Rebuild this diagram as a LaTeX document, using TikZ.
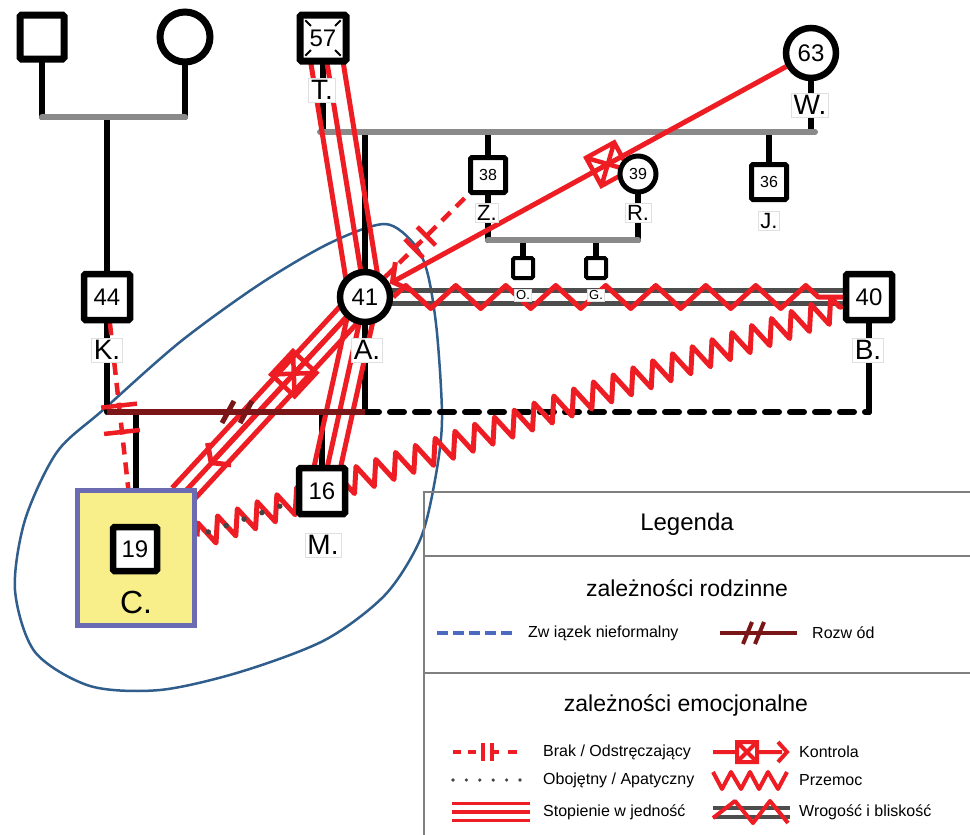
\documentclass[tikz,border=0pt]{standalone}
\usepackage{fontspec}
\setmainfont{Liberation Sans}
\usetikzlibrary{calc,decorations.pathmorphing,decorations.markings,arrows.meta}

\definecolor{relred}{HTML}{EE1D23}
\definecolor{bargray}{HTML}{8A8A8A}
\definecolor{hostgray}{HTML}{4D4D4D}
\definecolor{divred}{HTML}{7A1518}
\definecolor{blobblue}{HTML}{2F5D8C}
\definecolor{idfill}{HTML}{F8EE8A}
\definecolor{idedge}{HTML}{6B6BB3}
\definecolor{legline}{HTML}{7F7F7F}
\definecolor{infblue}{HTML}{4A6BC0}
\definecolor{dotgray}{HTML}{444444}

\newcommand\fsz[1]{\fontsize{#1}{#1}\selectfont}
% three parallel red lines between two points (fusion)
\newcommand\fusionband[3]{%
  \draw[fusion] (#1.center) -- (#2.center);
  \draw[fusion] ($(#1.center)!#3!90:(#2.center)$) -- ($(#2.center)!#3!-90:(#1.center)$);
  \draw[fusion] ($(#1.center)!#3!-90:(#2.center)$) -- ($(#2.center)!#3!90:(#1.center)$);
}

\pgfdeclarelayer{blob}
\pgfdeclarelayer{kinship}
\pgfdeclarelayer{emotion}
\pgfdeclarelayer{marriage}
\pgfsetlayers{blob,kinship,emotion,marriage,main}

\tikzset{
  person/.style={draw, fill=white, line width=6.5pt, inner sep=0pt, font=\fsz{24}},
  male/.style={person, rectangle, rounded corners=1.5pt, minimum size=46pt},
  female/.style={person, circle, minimum size=50pt},
  smallmale/.style={male, line width=5pt, minimum size=35pt, font=\fsz{16}},
  smallfemale/.style={female, line width=5pt, minimum size=36pt, font=\fsz{16}},
  tinymale/.style={male, line width=4pt, minimum size=20pt},
  idbox/.style={draw=idedge, fill=idfill, line width=5pt, rectangle, minimum width=117pt, minimum height=135pt, inner sep=0pt},
  namebox/.style={fill=white, draw=black!12, line width=0.7pt, inner sep=2.5pt, font=\fsz{28}},
  smallname/.style={namebox, font=\fsz{22}, inner sep=2pt},
  tinyname/.style={namebox, font=\fsz{13}, inner sep=1.5pt},
  kin/.style={line width=6pt, line cap=round},
  sibbar/.style={bargray, line width=6pt, line cap=round},
  divorce/.style={divred, line width=5.5pt, postaction={decorate, decoration={markings,
      mark=at position 0.469 with {\draw[-, divred, line width=5pt] (-6pt,-11pt) -- (6pt,11pt);},
      mark=at position 0.539 with {\draw[-, divred, line width=5pt] (-6pt,-11pt) -- (6pt,11pt);}}}},
  fusion/.style={relred, line width=5pt},
  ctl/.style={relred, line width=5pt, -{Straight Barb[length=12pt,width=32pt]},
    postaction={decorate, decoration={markings, mark=at position #1 with
      {\draw[-, relred, line width=4.5pt, line join=miter] (-16pt,-16pt) -- (16pt,-16pt) -- (16pt,16pt) -- (-16pt,16pt) -- cycle
        (-16pt,-16pt) -- (16pt,16pt) (-16pt,16pt) -- (16pt,-16pt);}}}},
  cutoff/.style n args={3}{relred, line width=4.5pt, dash pattern=on 12pt off 8pt,
    postaction={decorate, decoration={markings,
      mark=at position #1 with {\draw[-, solid, relred, line width=4.5pt] (0pt,-#3) -- (0pt,#3);},
      mark=at position #2 with {\draw[-, solid, relred, line width=4.5pt] (0pt,-#3) -- (0pt,#3);}}}},
  hostline/.style={hostgray, line width=5pt},
  zigbig/.style={relred, line width=5pt, line join=round, decorate, decoration={zigzag, segment length=50pt, amplitude=11.5pt}},
  violence/.style={relred, line width=5pt, line join=round, decorate, decoration={zigzag, segment length=21pt, amplitude=12.5pt}},
  apathy/.style={dotgray, line width=5.5pt, line cap=round, dash pattern=on 0pt off 19pt, dash phase=7pt},
  legframe/.style={legline, line width=2.5pt},
  legtext/.style={anchor=west, inner sep=0pt, font=\fsz{16}},
  leghead/.style={inner sep=0pt, font=\fsz{23}},
}

\begin{document}
\begin{tikzpicture}[x=1pt,y=-1pt]
\begin{pgfonlayer}{blob}
\fill[white] (0,0) rectangle (970,835);
\end{pgfonlayer}
\useasboundingbox (0,0) rectangle (970,835);

% ---------- persons ----------
\node[male, line width=7pt, minimum size=44pt] (gf) at (42,37) {};
\node[female, line width=7pt] (gm) at (185,37) {};
\node[male, line width=7pt] (T) at (323,38) {57};
\foreach \a in {45,135,225,315}
  \draw[line width=2pt] ($(T.center)+(\a:17pt)$) -- ($(T.center)+(\a:25pt)$);
\node[female] (W) at (811,53) {63};
\node[male] (K) at (107,297) {44};
\node[female] (A) at (365,297) {41};
\node[male] (B) at (869,297) {40};
\node[smallmale] (Z) at (488,175) {38};
\node[smallfemale] (R) at (638,174) {39};
\node[smallmale] (J) at (769,182) {36};
\node[tinymale] (O) at (523,268) {};
\node[tinymale] (G) at (596,268) {};
\node[male] (M) at (322,491) {16};
\node[idbox] (C) at (136,558) {};
\node[male, minimum size=44pt] (Ci) at (135,549) {19};
\node[inner sep=0pt, font=\fsz{32}] (Cl) at (136,602) {C.};

% ---------- names ----------
\node[namebox] (Tl) at (322,90) {T.};
\node[namebox] (Wl) at (810,105) {W.};
\node[namebox] (Kl) at (107,350) {K.};
\node[namebox] (Al) at (367,350) {A.};
\node[namebox] (Bl) at (868,350) {B.};
\node[namebox] (Ml) at (323,545) {M.};
\node[smallname] (Zl) at (487,213) {Z.};
\node[smallname] (Rl) at (638,213) {R.};
\node[smallname] (Jl) at (769,221) {J.};
\node[tinyname] (Ol) at (523,295) {O.};
\node[tinyname] (Gl) at (596,295) {G.};

% ---------- junction points ----------
\coordinate (gpL) at (42,117);  \coordinate (gpR) at (185,117); \coordinate (gpK) at (107,117);
\coordinate (tbL) at (320,132); \coordinate (tbR) at (815,132);
\coordinate (tbT) at (323,132); \coordinate (tbW) at (811,132); \coordinate (tbA) at (365,132);
\coordinate (tbZ) at (488,132); \coordinate (tbJ) at (769,132);
\coordinate (zbL) at (488,240); \coordinate (zbR) at (638,240);
\coordinate (zbO) at (523,240); \coordinate (zbG) at (596,240);
\coordinate (dvK) at (107,412); \coordinate (dvA) at (365,412); \coordinate (dvB) at (869,412);
\coordinate (dvC) at (136,412); \coordinate (dvM) at (322,412);
\coordinate (cFus) at (181,496);
\coordinate (cCtl) at (209,465);

% ---------- outline round the core family ----------
\begin{pgfonlayer}{blob}
\draw[blobblue, line width=2.5pt] plot[smooth cycle] coordinates {
  (385,224) (415,245) (428,275) (437,333) (442,420) (435,480) (420,540) (385,595)
  (325,640) (240,672) (160,690) (90,686) (35,652) (15,590) (25,520) (57,452)
  (103,410) (180,342) (260,284) (330,243)};
\end{pgfonlayer}

% ---------- family lines ----------
\begin{pgfonlayer}{kinship}
\draw[kin] (gf.south) -- (gpL);
\draw[kin] (gm.south) -- (gpR);
\draw[kin] (gpK) -- (K.north);
\draw[sibbar] (gpL) -- (gpR);
\draw[kin] (T.south) -- (tbT);
\draw[kin] (W.south) -- (tbW);
\draw[kin] (tbA) -- (A.north);
\draw[kin] (tbZ) -- (Z.north);
\draw[kin] (tbJ) -- (J.north);
\draw[sibbar] (tbL) -- (tbR);
\draw[kin] (Z.south) -- (zbL);
\draw[kin] (R.south) -- (zbR);
\draw[kin] (zbO) -- (O.north);
\draw[kin] (zbG) -- (G.north);
\draw[sibbar] (zbL) -- (zbR);
\draw[kin] (K.south) -- (dvK);
\draw[kin] (A.south) -- (dvA);
\draw[kin] (B.south) -- (dvB);
\draw[kin] (dvC) -- (C.north);
\draw[kin] (dvM) -- (M.north);
\draw[kin, dash pattern=on 14pt off 11pt] (dvA) -- (dvB);
\end{pgfonlayer}

% ---------- emotional relations ----------
\begin{pgfonlayer}{emotion}
\draw[hostline] ($(A.center)+(0,-6.5)$) -- ($(B.center)+(0,-6.5)$);
\draw[hostline] ($(A.center)+(0,6.5)$) -- ($(B.center)+(0,6.5)$);
\draw[zigbig] (A) -- (B);
\fusionband{T}{A}{16pt}
\fusionband{A}{M}{13pt}
\fusionband{A}{cFus}{12pt}
\draw[ctl=0.38] (A) -- (cCtl);
\draw[ctl=0.45] (W) -- (A);
\draw[cutoff={0.5}{0.66}{18pt}] (K) -- (C);
\draw[cutoff={0.35}{0.5}{13pt}] (A) -- (Z);
\draw[violence] (C) -- (B);
\draw[apathy] (C) -- (M);
\end{pgfonlayer}

\begin{pgfonlayer}{marriage}
\draw[divorce] (dvK) -- (dvA);
\end{pgfonlayer}

% ---------- legend ----------
\draw[legframe] (424,840) -- (424,492) -- (975,492);
\draw[legframe] (424,556) -- (975,556);
\draw[legframe] (424,673) -- (975,673);
\node[leghead, font=\fsz{24}] (lgTitle) at (687,524) {Legenda};
\node[leghead] (lgFam) at (687,588) {zależności rodzinne};
\node[leghead] (lgEmo) at (686,705) {zależności emocjonalne};

% family keys
\draw[infblue, line width=4pt, dash pattern=on 11pt off 5pt] (437,633) -- (513,633);
\node[legtext] (lgInf) at (528,633) {Zw iązek nieformalny};
\draw[divred, line width=4.5pt] (720,633) -- (797,633);
\draw[divred, line width=4pt] (743,644) -- (752,622) (755,644) -- (764,622);
\node[legtext] (lgDiv) at (812,633) {Rozw ód};

% emotional keys
\draw[relred, line width=4pt] (453,752) -- (461,752) (468,752) -- (476,752)
  (492,752) -- (499,752) (508,752) -- (517,752)
  (483,743) -- (483,761) (492,743) -- (492,761);
\node[legtext] (lgCut) at (543,752) {Brak / Odstręczający};
\draw[relred, line width=4pt] (713,752) -- (737,752) (757,752) -- (782,752)
  (737,742) -- (757,742) -- (757,762) -- (737,762) -- cycle
  (737,742) -- (757,762) (737,762) -- (757,742);
\draw[relred, line width=4pt, line join=miter] (778,742) -- (787,752) -- (778,762);
\node[legtext] (lgCtl) at (799,752) {Kontrola};

\foreach \x in {453,466.4,479.8,493.2,506.6,520}
  \fill[dotgray] (\x,780) circle[radius=1.8pt];
\node[legtext] (lgApa) at (543,780) {Obojętny / Apatyczny};
\draw[relred, line width=4pt, line join=round] (713,772) -- (722,789) -- (731,772) -- (741,789)
  -- (750,772) -- (759,789) -- (768,772) -- (778,789) -- (787,772);
\node[legtext] (lgVio) at (799,780) {Przemoc};

\draw[relred, line width=3.5pt] (452,803.5) -- (530,803.5) (452,812) -- (530,812) (452,820.5) -- (530,820.5);
\node[legtext] (lgFus) at (543,812) {Stopienie w jedność};
\draw[hostgray, line width=4pt] (713,808) -- (790,808) (713,817) -- (790,817);
\draw[relred, line width=4pt, line join=round] (713,818) -- (735,801) -- (753,823) -- (770,801) -- (788,823);
\node[legtext] (lgHos) at (799,812) {Wrogość i bliskość};
\end{tikzpicture}
\end{document}
